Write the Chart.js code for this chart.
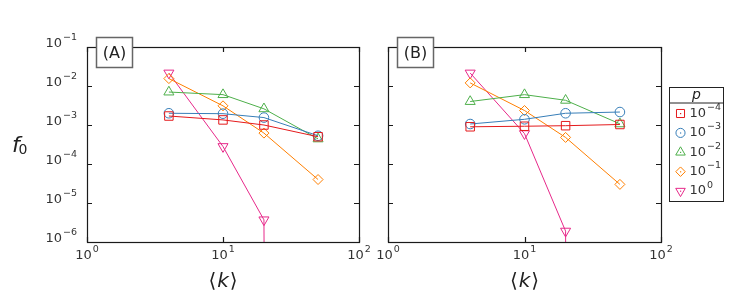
<!DOCTYPE html>
<html>
<head>
<meta charset="utf-8">
<script src="https://cdn.jsdelivr.net/npm/chart.js@4.4.1/dist/chart.umd.min.js"></script>
<style>
  body { margin: 0; background: #fff; width: 748px; height: 301px; overflow: hidden; position: relative; }
  .panel { position: absolute; top: 0; width: 374px; height: 301px; }
</style>
</head>
<body>
<div class="panel" style="left:0"><canvas id="chartA" width="374" height="301"></canvas></div>
<div class="panel" style="left:374px"><canvas id="chartB" width="374" height="301"></canvas></div>
<script>
// mean degree <k> on the x axis
const kValues = [4, 10, 20, 50];
// p = 10^exp, one series per p
const pExponents = [-4, -3, -2, -1, 0];
const xTickValues = [1, 10, 100];
const yTickValues = [1e-6, 1e-5, 1e-4, 1e-3, 1e-2, 1e-1];

// panel (A): f0 per p (0 = fell to zero)
const fA_p4 = [1.7e-3, 1.35e-3, 1.0e-3, 5.0e-4];
const fA_p3 = [2.0e-3, 1.95e-3, 1.55e-3, 5.3e-4];
const fA_p2 = [7.0e-3, 6.0e-3, 2.6e-3, 4.4e-4];
const fA_p1 = [1.55e-2, 3.1e-3, 6.2e-4, 4.0e-5];
const fA_p0 = [2.15e-2, 2.8e-4, 3.7e-6, 0];

// panel (B)
const fB_p4 = [9.0e-4, 9.3e-4, 9.6e-4, 1.03e-3];
const fB_p3 = [1.06e-3, 1.4e-3, 2.0e-3, 2.15e-3];
const fB_p2 = [4.0e-3, 6.0e-3, 4.3e-3, 1.07e-3];
const fB_p1 = [1.2e-2, 2.35e-3, 4.8e-4, 3.0e-5];
const fB_p0 = [2.15e-2, 6.0e-4, 1.9e-6, 0];

const colors = ["#e41a1c", "#377eb8", "#4daf4a", "#ff7f00", "#e7298a"];
const markers = ["rect", "circle", "triangle", "rectRot", "triangle"];
const rotations = [0, 0, 0, 0, 180];
const radii = [6, 4.8, 5.8, 5, 5.8];

const FONT = "'DejaVu Sans', sans-serif";

function supText(exp) {
  return exp < 0 ? "\u2212" + (-exp) : String(exp);
}

// draws "10" with a raised exponent, y = middle of the "10"
function powLabel(ctx, exp, x, y, align) {
  const sup = supText(exp);
  ctx.font = "13px " + FONT;
  const wb = ctx.measureText("10").width;
  ctx.font = "9.5px " + FONT;
  const ws = ctx.measureText(sup).width;
  const left = align === "right" ? x - wb - ws - 1 : (align === "left" ? x : x - (wb + ws + 1) / 2);
  ctx.textAlign = "left";
  ctx.textBaseline = "middle";
  ctx.font = "13px " + FONT;
  ctx.fillText("10", left, y);
  ctx.font = "9.5px " + FONT;
  ctx.fillText(sup, left + wb + 1, y - 6);
}

function makeDatasets(series) {
  return series.map((vals, i) => ({
    label: "10^" + pExponents[i],
    data: kValues.map((k, j) => ({ x: k, y: vals[j] > 0 ? vals[j] : 1e-300 })),
    borderColor: colors[i],
    backgroundColor: "rgba(255,255,255,0)",
    borderWidth: 1,
    pointStyle: markers[i],
    pointRotation: rotations[i],
    pointRadius: c => (c.raw && c.raw.y < 1e-100 ? 0 : radii[i]),
    pointBorderWidth: 1,
    pointBackgroundColor: "rgba(255,255,255,0)",
    tension: 0
  }));
}

const framePlugin = {
  id: "frame",
  afterDraw(chart, args, opts) {
    const { ctx, chartArea: a, scales: { x, y } } = chart;
    ctx.save();
    ctx.strokeStyle = "#1a1a1a";
    ctx.lineWidth = 1.2;
    ctx.strokeRect(a.left + 0.5, a.top + 0.5, a.right - a.left, a.bottom - a.top);
    ctx.beginPath();
    xTickValues.forEach(v => {
      const px = Math.round(x.getPixelForValue(v)) + 0.5;
      ctx.moveTo(px, a.bottom); ctx.lineTo(px, a.bottom - 5);
      ctx.moveTo(px, a.top); ctx.lineTo(px, a.top + 5);
    });
    yTickValues.forEach(v => {
      const py = Math.round(y.getPixelForValue(v)) + 0.5;
      ctx.moveTo(a.left, py); ctx.lineTo(a.left + 5, py);
      ctx.moveTo(a.right, py); ctx.lineTo(a.right - 5, py);
    });
    ctx.stroke();

    ctx.fillStyle = "#333";
    xTickValues.forEach(v => {
      powLabel(ctx, Math.round(Math.log10(v)), x.getPixelForValue(v), a.bottom + 14, "center");
    });
    if (opts.yLabels) {
      yTickValues.forEach(v => {
        powLabel(ctx, Math.round(Math.log10(v)), a.left - 10, y.getPixelForValue(v) - 3.5, "right");
      });
      // f_0
      ctx.fillStyle = "#222";
      ctx.textAlign = "left";
      ctx.textBaseline = "alphabetic";
      ctx.font = "italic 22px " + FONT;
      ctx.fillText("f", 12, 152);
      ctx.font = "14px " + FONT;
      ctx.fillText("0", 18.5, 154);
    }

    // <k>
    ctx.fillStyle = "#222";
    ctx.textBaseline = "alphabetic";
    ctx.font = "20px " + FONT;
    const wl = ctx.measureText("\u27E8").width;
    const wr = ctx.measureText("\u27E9").width;
    ctx.font = "italic 20px " + FONT;
    const wk = ctx.measureText("k").width;
    const cx = (a.left + a.right) / 2;
    const lx = cx - (wl + wk + wr + 2) / 2;
    ctx.textAlign = "left";
    ctx.font = "20px " + FONT;
    ctx.fillText("\u27E8", lx, 287);
    ctx.font = "italic 20px " + FONT;
    ctx.fillText("k", lx + wl + 1, 287);
    ctx.font = "20px " + FONT;
    ctx.fillText("\u27E9", lx + wl + wk + 2, 287);

    // panel tag
    const bx = a.left + 9.5, by = 37.5, bw = 36, bh = 30;
    ctx.fillStyle = "#fff";
    ctx.fillRect(bx, by, bw, bh);
    ctx.strokeStyle = "#666";
    ctx.lineWidth = 1.5;
    ctx.strokeRect(bx, by, bw, bh);
    ctx.fillStyle = "#222";
    ctx.font = "16px " + FONT;
    ctx.textAlign = "center";
    ctx.textBaseline = "middle";
    ctx.fillText(opts.label, bx + bw / 2, by + bh / 2 + 1);

    if (opts.legend) {
      const lx0 = a.right + 8.5, ly0 = 87.5, lw = 54, lh = 114;
      ctx.fillStyle = "#fff";
      ctx.fillRect(lx0, ly0, lw, lh);
      ctx.strokeStyle = "#222";
      ctx.lineWidth = 1;
      ctx.strokeRect(lx0, ly0, lw, lh);
      ctx.beginPath();
      ctx.moveTo(lx0, ly0 + 15.5); ctx.lineTo(lx0 + lw, ly0 + 15.5);
      ctx.stroke();
      ctx.fillStyle = "#222";
      ctx.font = "italic 14px " + FONT;
      ctx.textAlign = "center";
      ctx.textBaseline = "alphabetic";
      ctx.fillText("p", lx0 + lw / 2, ly0 + 11.5);
      pExponents.forEach((e, i) => {
        const yc = ly0 + 26 + i * 19.4;
        const mx = lx0 + 11;
        ctx.strokeStyle = colors[i];
        ctx.fillStyle = "rgba(255,255,255,0)";
        ctx.lineWidth = 1;
        Chart.helpers.drawPoint(ctx, {
          pointStyle: markers[i], rotation: rotations[i], radius: radii[i] * 0.95, borderWidth: 1
        }, mx, yc);
        ctx.fillStyle = colors[i];
        ctx.fillRect(mx - 0.5, yc - 0.5, 1.2, 1.2);
        ctx.fillStyle = "#333";
        powLabel(ctx, e, lx0 + 20, yc, "left");
      });
    }
    ctx.restore();
  }
};

function makeChart(id, series, opts) {
  return new Chart(document.getElementById(id), {
    type: "line",
    data: { datasets: makeDatasets(series) },
    options: {
      responsive: false,
      animation: false,
      events: [],
      layout: { padding: { left: 0, right: opts.padRight, top: 47, bottom: 0 } },
      plugins: {
        legend: { display: false },
        tooltip: { enabled: false },
        frame: { label: opts.label, yLabels: opts.yLabels, legend: opts.legend }
      },
      scales: {
        x: {
          type: "logarithmic", min: 1, max: 100,
          ticks: { display: false }, grid: { display: false }, border: { display: false },
          afterFit: s => { s.height = 59; }
        },
        y: {
          type: "logarithmic", min: 1e-6, max: 1e-1,
          ticks: { display: false }, grid: { display: false }, border: { display: false },
          afterFit: s => { s.width = opts.yWidth; }
        }
      }
    },
    plugins: [framePlugin]
  });
}

makeChart("chartA", [fA_p4, fA_p3, fA_p2, fA_p1, fA_p0], { label: "(A)", yLabels: true, legend: false, padRight: 15, yWidth: 87 });
makeChart("chartB", [fB_p4, fB_p3, fB_p2, fB_p1, fB_p0], { label: "(B)", yLabels: false, legend: true, padRight: 87, yWidth: 14 });
</script>
</body>
</html>
